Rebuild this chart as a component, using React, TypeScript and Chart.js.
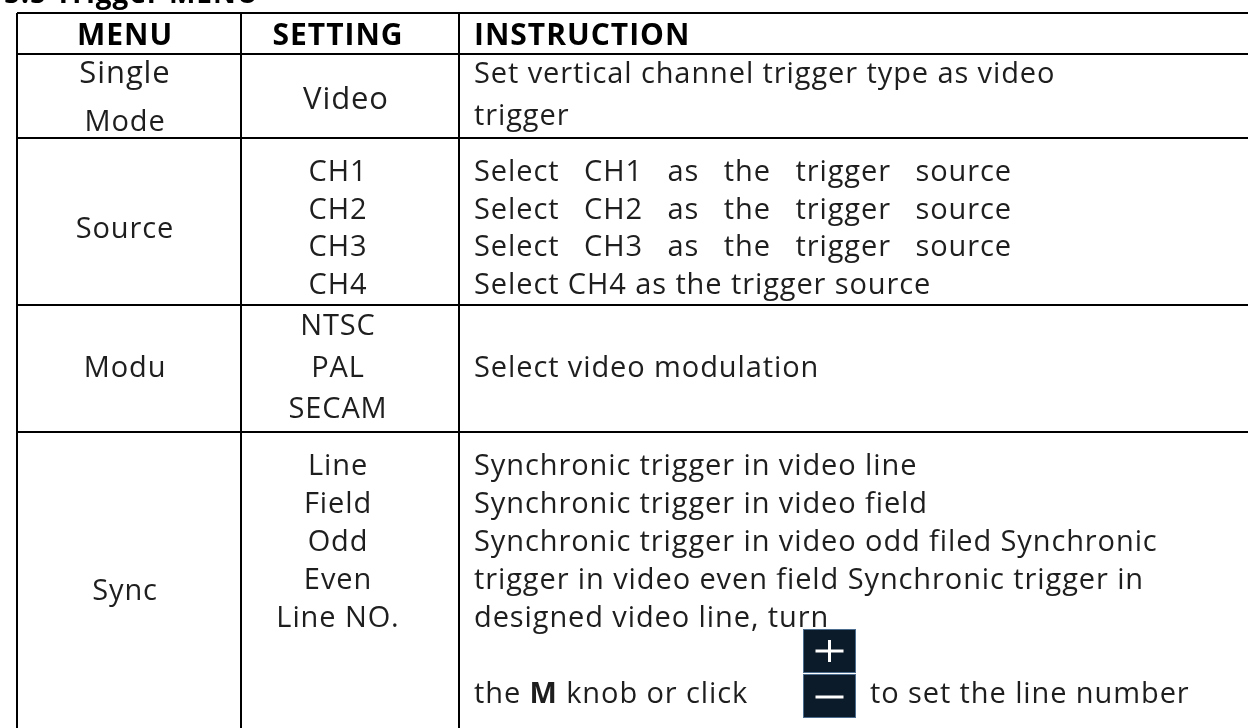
import React, { useEffect, useRef } from "react";
import { Chart, registerables } from "chart.js";

Chart.register(...registerables);

// ---------- data ----------
const titleText = "5.5 Trigger MENU";
const headers = ["MENU", "SETTING", "INSTRUCTION"];
// table grid (x: columns, y: rows) in table units
const xGridValues = [0, 224, 442];
const xMax = 1231;
const yGridValues = [0, 41, 125, 292, 419];
const yMax = 715;

const menuCells = [["Single", "Mode"], ["Source"], ["Modu"], ["Sync"]];
const settingCells = [
  ["Video"],
  ["CH1", "CH2", "CH3", "CH4"],
  ["NTSC", "PAL", "SECAM"],
  ["Line", "Field", "Odd", "Even", "Line NO."],
];
const instructionCells = [
  ["Set vertical channel trigger type as video", "trigger"],
  [
    "Select CH1 as the trigger source",
    "Select CH2 as the trigger source",
    "Select CH3 as the trigger source",
    "Select CH4 as the trigger source",
  ],
  ["Select video modulation"],
  [
    "Synchronic trigger in video line",
    "Synchronic trigger in video field",
    "Synchronic trigger in video odd filed Synchronic",
    "trigger in video even field Synchronic trigger in",
    "designed video line, turn",
  ],
];
const justifiedLines = [[], [0, 1, 2], [], []];
const buttonLabels = ["+", "-"];
const knobLineParts: [string, boolean][] = [
  ["the ", false],
  ["M", true],
  [" knob or click", false],
];
const knobLineTail = "to set the line number";

// ---------- layout (style only) ----------
const FONT = '"Open Sans", "Noto Sans", sans-serif';
const TEXT_COLOR = "#1e1e1e";
const BASE_SIZE = 29;
const WEIGHT = "400";
const LS = "0.9px";
const rowLayout = [
  { menu: [29, 77], menuSizes: [31, 29], settingFirst: 55, settingPitch: 0, settingSize: 31, settingShift: 8, instrFirst: 29, instrPitch: 42 },
  { menu: [100], menuSizes: [29], settingFirst: 43, settingPitch: 37.7, settingSize: 29, settingShift: 0, instrFirst: 43, instrPitch: 37.7 },
  { menu: [72], menuSizes: [29], settingFirst: 30, settingPitch: 41.5, settingSize: 29, settingShift: 0, instrFirst: 72, instrPitch: 0 },
  { menu: [168], menuSizes: [29], settingFirst: 43, settingPitch: 38, settingSize: 29, settingShift: 0, instrFirst: 43, instrPitch: 38 },
];
const CENTER_SHIFT = [-4, -12];
const INSTR_PAD = 15;
const JUSTIFY_W = 538;

const tablePlugin = {
  id: "tableText",
  afterDraw(chart: any) {
    const ctx: CanvasRenderingContext2D = chart.ctx;
    const xs = chart.scales.x;
    const ys = chart.scales.y;
    const px = (v: number) => xs.getPixelForValue(v);
    const py = (v: number) => ys.getPixelForValue(v);
    const colLeft = xGridValues.map(px);
    const colRight = [px(xGridValues[1]), px(xGridValues[2]), px(xMax)];
    ctx.save();
    ctx.textBaseline = "alphabetic";

    // clipped title above the table
    (ctx as any).letterSpacing = "1px";
    ctx.font = `bold 28px ${FONT}`;
    ctx.textAlign = "left";
    ctx.fillStyle = "#000";
    ctx.fillText(titleText, 4, py(0) - 10);

    // headers
    ctx.font = `bold 30px ${FONT}`;
    const headY = py(0) + 32;
    for (let c = 0; c < 3; c++) {
      if (c < 2) {
        ctx.textAlign = "center";
        ctx.fillText(headers[c], (colLeft[c] + colRight[c]) / 2 + CENTER_SHIFT[c], headY);
      } else {
        ctx.textAlign = "left";
        ctx.fillText(headers[c], colLeft[c] + INSTR_PAD, headY);
      }
    }

    (ctx as any).letterSpacing = LS;
    ctx.fillStyle = TEXT_COLOR;
    for (let r = 0; r < menuCells.length; r++) {
      const top = py(yGridValues[r + 1]);
      const L = rowLayout[r];
      // menu
      ctx.textAlign = "center";
      menuCells[r].forEach((t, i) => {
        ctx.font = `${WEIGHT} ${L.menuSizes[i]}px ${FONT}`;
        ctx.fillText(t, (colLeft[0] + colRight[0]) / 2 + CENTER_SHIFT[0], top + L.menu[i]);
      });
      // settings
      ctx.font = `${WEIGHT} ${L.settingSize}px ${FONT}`;
      settingCells[r].forEach((t, i) => {
        ctx.fillText(
          t,
          (colLeft[1] + colRight[1]) / 2 + CENTER_SHIFT[1] + L.settingShift,
          top + L.settingFirst + i * L.settingPitch
        );
      });
      // instructions
      ctx.textAlign = "left";
      ctx.font = `${WEIGHT} ${BASE_SIZE}px ${FONT}`;
      instructionCells[r].forEach((t, i) => {
        const y = top + L.instrFirst + i * L.instrPitch;
        const x0 = colLeft[2] + INSTR_PAD;
        if (justifiedLines[r].includes(i)) {
          const words = t.split(" ");
          const widths = words.map((w) => ctx.measureText(w).width);
          const total = widths.reduce((a, b) => a + b, 0);
          const gap = (JUSTIFY_W - total) / (words.length - 1);
          let x = x0;
          words.forEach((w, k) => {
            ctx.fillText(w, x, y);
            x += widths[k] + gap;
          });
        } else {
          ctx.fillText(t, x0, y);
        }
      });
    }

    // knob line with buttons (last row)
    const syncTop = py(yGridValues[4]);
    const bx = colLeft[2] + 344;
    const bw = 53;
    const boxes = [
      { y: syncTop + 197, h: 44 },
      { y: syncTop + 242, h: 44 },
    ];
    boxes.forEach((b, i) => {
      ctx.fillStyle = "#0c1b29";
      ctx.fillRect(bx, b.y, bw, b.h);
      ctx.strokeStyle = "#4d6d8e";
      ctx.lineWidth = 1;
      ctx.strokeRect(bx + 0.5, b.y + 0.5, bw - 1, b.h - 1);
      ctx.strokeStyle = "#ffffff";
      ctx.lineWidth = 3;
      const cx = bx + bw / 2;
      const cy = b.y + b.h / 2 + (i === 1 ? 1 : 0);
      ctx.beginPath();
      ctx.moveTo(cx - 14, cy);
      ctx.lineTo(cx + 14, cy);
      if (buttonLabels[i] === "+") {
        ctx.moveTo(cx, cy - 11);
        ctx.lineTo(cx, cy + 11);
      }
      ctx.stroke();
    });

    ctx.fillStyle = TEXT_COLOR;
    const knobY = syncTop + 271;
    let kx = colLeft[2] + INSTR_PAD;
    knobLineParts.forEach(([t, bold]) => {
      ctx.font = `${bold ? "bold" : WEIGHT} ${BASE_SIZE}px ${FONT}`;
      ctx.fillText(t, kx, knobY);
      kx += ctx.measureText(t).width;
    });
    ctx.font = `${WEIGHT} ${BASE_SIZE}px ${FONT}`;
    ctx.fillText(knobLineTail, colLeft[2] + 411, knobY);
    ctx.restore();
  },
};

export default function App() {
  const ref = useRef<HTMLCanvasElement | null>(null);
  useEffect(() => {
    if (!ref.current) return;
    const gridOpts = { color: "#000000", lineWidth: 2, drawTicks: false };
    const chart = new Chart(ref.current, {
      type: "scatter",
      data: { datasets: [{ data: [], pointRadius: 0 }] },
      options: {
        animation: false,
        responsive: false,
        events: [],
        layout: { padding: { left: 17, top: 13, right: 0, bottom: 0 } },
        plugins: { legend: { display: false }, tooltip: { enabled: false } },
        scales: {
          x: {
            type: "linear",
            min: 0,
            max: xMax,
            afterBuildTicks: (s: any) => {
              s.ticks = xGridValues.map((v) => ({ value: v }));
            },
            ticks: { display: false },
            grid: gridOpts,
            border: { display: false },
          },
          y: {
            type: "linear",
            reverse: true,
            min: 0,
            max: yMax,
            afterBuildTicks: (s: any) => {
              s.ticks = yGridValues.map((v) => ({ value: v }));
            },
            ticks: { display: false },
            grid: gridOpts,
            border: { display: false },
          },
        },
      } as any,
      plugins: [tablePlugin],
    });
    return () => chart.destroy();
  }, []);
  return (
    <div style={{ position: "absolute", left: 0, top: 0, width: 1248, height: 728, background: "#fff" }}>
      <canvas ref={ref} width={1248} height={728} style={{ display: "block" }} />
    </div>
  );
}
